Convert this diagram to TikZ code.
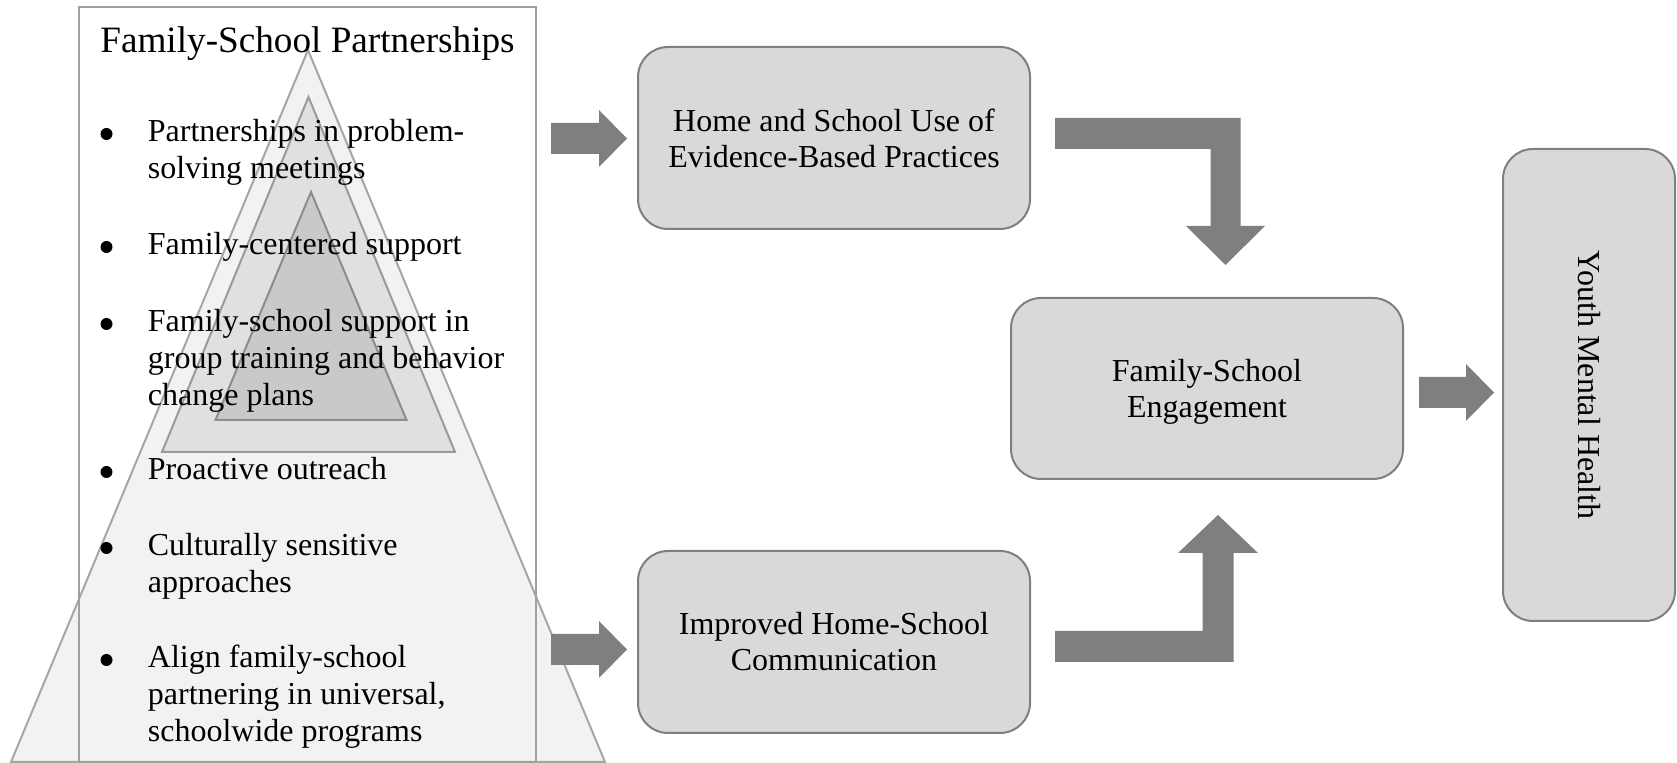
\documentclass[tikz,border=0pt]{standalone}
\usepackage{fontspec}
\setmainfont{Liberation Serif}
\usetikzlibrary{calc}
\definecolor{boxfill}{HTML}{D9D9D9}
\definecolor{boxline}{HTML}{7F7F7F}
\definecolor{arrowgray}{HTML}{7F7F7F}
\definecolor{rectline}{HTML}{A0A0A0}
\definecolor{triA}{HTML}{F2F2F2}
\definecolor{triAline}{HTML}{A6A6A6}
\definecolor{triB}{HTML}{E0E0E0}
\definecolor{triBline}{HTML}{9A9A9A}
\definecolor{triC}{HTML}{C9C9C9}
\definecolor{triCline}{HTML}{8C8C8C}
% straight block arrow pointing right: #1 tail coordinate, #2 tip coordinate
\newcommand\rblock[2]{%
  \fill[blk] ($(#1)+(0,-15.5)$) -- ($(#2)+(-28,-15.5)$) -- ($(#2)+(-28,-28.5)$)
    -- (#2) -- ($(#2)+(-28,28.5)$) -- ($(#2)+(-28,15.5)$) -- ($(#1)+(0,15.5)$) -- cycle;}
\begin{document}
\begin{tikzpicture}[x=0.5pt,y=-0.5pt,
  itemline/.style={anchor=base west, inner sep=0pt, font=\fontsize{16}{18.5}\selectfont},
  dot/.style={circle, fill=black, inner sep=0pt, minimum size=6pt},
  box/.style={draw=boxline, fill=boxfill, line width=1pt, rounded corners=15pt,
    align=center, inner sep=0pt, font=\fontsize{16}{18}\selectfont},
  blk/.style={fill=arrowgray, draw=none}]
\useasboundingbox (0,0) rectangle (1677,763);

% nested pyramid behind the partnership list
\filldraw[fill=triA, draw=triAline, line width=1pt] (308,50) -- (605,762) -- (11,762) -- cycle;
\filldraw[fill=triB, draw=triBline, line width=1pt] (308.5,97) -- (455,452) -- (162,452) -- cycle;
\filldraw[fill=triC, draw=triCline, line width=1pt] (311,192) -- (406.5,420) -- (215.5,420) -- cycle;

% frame of the list
\draw[draw=rectline, line width=0.75pt] (79,7) rectangle (536,762);

\node[anchor=base, inner sep=0pt, font=\fontsize{18.6}{22}\selectfont] (title) at (307.5,53) {Family-School Partnerships};

% bulleted items
\node[dot] (d1) at (106.5,134) {};
\node[itemline] (l1a) at (147.5,142) {Partnerships in problem-};
\node[itemline] (l1b) at (147.5,179) {solving meetings};
\node[dot] (d2) at (106.5,247) {};
\node[itemline] (l2a) at (147.5,255) {Family-centered support};
\node[dot] (d3) at (106.5,324) {};
\node[itemline] (l3a) at (147.5,332) {Family-school support in};
\node[itemline] (l3b) at (147.5,369) {group training and behavior};
\node[itemline] (l3c) at (147.5,406) {change plans};
\node[dot] (d4) at (106.5,472) {};
\node[itemline] (l4a) at (147.5,480) {Proactive outreach};
\node[dot] (d5) at (106.5,548) {};
\node[itemline] (l5a) at (147.5,556) {Culturally sensitive};
\node[itemline] (l5b) at (147.5,593) {approaches};
\node[dot] (d6) at (106.5,660) {};
\node[itemline] (l6a) at (147.5,668) {Align family-school};
\node[itemline] (l6b) at (147.5,705) {partnering in universal,};
\node[itemline] (l6c) at (147.5,742) {schoolwide programs};

% outcome boxes
\node[box, minimum width=196pt, minimum height=91pt] (ebp) at (834,138) {Home and School Use of\\Evidence-Based Practices};
\node[box, minimum width=196pt, minimum height=91pt] (comm) at (834,642) {Improved Home-School\\Communication};
\node[box, text depth=0pt, minimum width=196pt, minimum height=90.5pt] (eng) at (1207,388.5) {Family-School\\Engagement};
\node[box, rotate=-90, minimum width=236pt, minimum height=86pt] (ymh) at (1589,385) {Youth Mental Health};

% block arrows
\coordinate (a1s) at (551,138.5); \coordinate (a1t) at (627,138.5);
\coordinate (a2s) at (551,649.5); \coordinate (a2t) at (627,649.5);
\coordinate (a3s) at (1419,392.5); \coordinate (a3t) at (1494,392.5);
\rblock{a1s}{a1t}
\rblock{a2s}{a2t}
\rblock{a3s}{a3t}

% elbow arrow from the practices box down to engagement
\fill[blk] (1055,118) -- (1240.5,118) -- (1240.5,226) -- (1265,226) -- (1225.5,265)
  -- (1186,226) -- (1210.5,226) -- (1210.5,149) -- (1055,149) -- cycle;
% elbow arrow from communication up to engagement
\fill[blk] (1055,662) -- (1233.5,662) -- (1233.5,553) -- (1258,553) -- (1218,515)
  -- (1178,553) -- (1202.5,553) -- (1202.5,631) -- (1055,631) -- cycle;
\end{tikzpicture}
\end{document}
